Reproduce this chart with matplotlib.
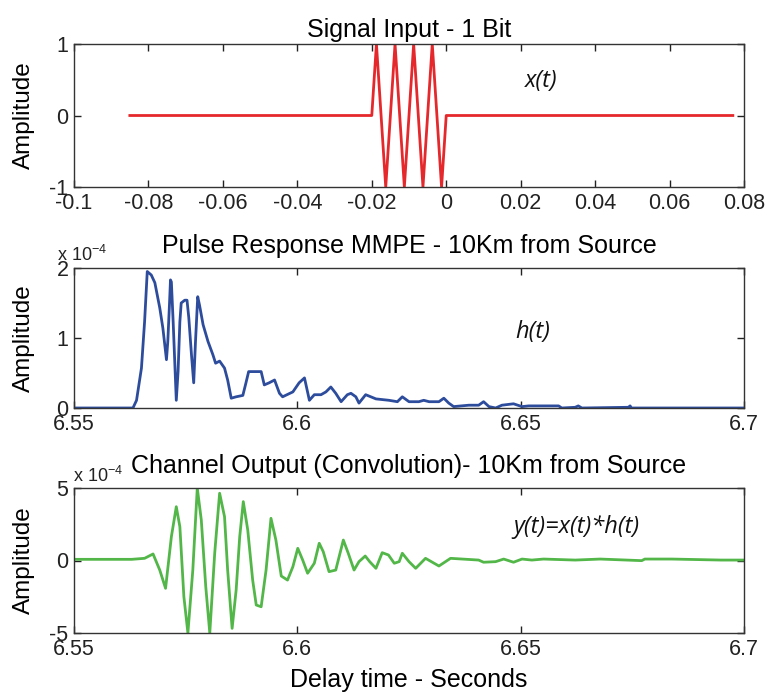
import matplotlib
matplotlib.use("Agg")
from matplotlib import pyplot as plt

plt.rcParams['font.family'] = ['Liberation Sans', 'DejaVu Sans']
plt.rcParams['axes.unicode_minus'] = False
plt.rcParams['mathtext.fontset'] = 'custom'
plt.rcParams['mathtext.rm'] = 'Liberation Sans'
plt.rcParams['mathtext.it'] = 'Liberation Sans:italic'

# --- data -------------------------------------------------------------
# input bit: 4 cycles of a sine, 5 ms period, ending at t = 0
x_t = [-0.085, -0.02, -0.01875, -0.01625, -0.01375, -0.01125, -0.00875,
       -0.00625, -0.00375, -0.00125, 0.0, 0.077]
x_amp = [0, 0, 1, -1, 1, -1, 1, -1, 1, -1, 0, 0]

# pulse response (units of 1e-4)
h_t = [6.55, 6.5632, 6.5640, 6.5651, 6.5658, 6.5664, 6.5673, 6.5681, 6.5692,
       6.5699, 6.5707, 6.5710, 6.5714, 6.5716, 6.5718, 6.5722, 6.5729, 6.5733,
       6.5737, 6.5740, 6.5748, 6.5753, 6.5757, 6.5763, 6.5768, 6.5772, 6.5777,
       6.5781, 6.5789, 6.5800, 6.5811, 6.5817, 6.5826, 6.5837, 6.5844, 6.5852,
       6.5863, 6.5878, 6.5885, 6.5891, 6.5919, 6.5926, 6.5937, 6.5949, 6.5960,
       6.5967, 6.5990, 6.6004, 6.6016, 6.6027, 6.6038, 6.6053, 6.6064, 6.6075,
       6.6086, 6.6098, 6.6112, 6.6120, 6.6131, 6.6138, 6.6153, 6.6176, 6.6205,
       6.6224, 6.6235, 6.6250, 6.6272, 6.6283, 6.6295, 6.6317, 6.6328, 6.6339,
       6.6350, 6.6384, 6.6406, 6.6417, 6.6429, 6.6444, 6.6458, 6.6484, 6.6503,
       6.6518, 6.6585, 6.6592, 6.6622, 6.6629, 6.6637, 6.6741, 6.6745, 6.6748,
       6.70]
h_amp = [0, 0, 0.11, 0.57, 1.23, 1.95, 1.90, 1.79, 1.43,
         1.14, 0.69, 0.95, 1.52, 1.83, 1.80, 1.23, 0.11, 0.52,
         1.23, 1.50, 1.54, 1.54, 1.29, 0.76, 0.36, 0.95, 1.59,
         1.47, 1.19, 0.95, 0.76, 0.64, 0.67, 0.57, 0.40, 0.14,
         0.16, 0.18, 0.36, 0.52, 0.52, 0.33, 0.36, 0.40, 0.21,
         0.16, 0.23, 0.36, 0.43, 0.11, 0.19, 0.19, 0.23, 0.30,
         0.21, 0.09, 0.19, 0.21, 0.16, 0.07, 0.19, 0.13, 0.11,
         0.09, 0.16, 0.09, 0.09, 0.11, 0.09, 0.09, 0.14, 0.07,
         0.02, 0.04, 0.04, 0.09, 0.02, 0.0, 0.04, 0.06, 0.02,
         0.03, 0.03, 0.0, 0.01, 0.03, 0.0, 0.01, 0.03, 0.0,
         0.0]

# channel output (units of 1e-4)
y_t = [6.55, 6.5629, 6.5658, 6.5677, 6.5692, 6.5705, 6.5718, 6.5729, 6.5737,
       6.5746, 6.5755, 6.5766, 6.5776, 6.5785, 6.5795, 6.5804, 6.5815, 6.5826,
       6.5837, 6.5844, 6.5854, 6.5863, 6.5871, 6.5879, 6.5889, 6.5900, 6.5908,
       6.5919, 6.5930, 6.5941, 6.5952, 6.5964, 6.5978, 6.5990, 6.6001, 6.6012,
       6.6023, 6.6038, 6.6049, 6.6058, 6.6071, 6.6086, 6.6103, 6.6114, 6.6127,
       6.6138, 6.6152, 6.6162, 6.6176, 6.6190, 6.6204, 6.6217, 6.6228, 6.6235,
       6.6250, 6.6265, 6.6287, 6.6317, 6.6343, 6.6406, 6.6417, 6.6444, 6.6462,
       6.6484, 6.6503, 6.6525, 6.6551, 6.6622, 6.6678, 6.6771, 6.6778, 6.6838,
       6.6949, 6.70]
y_amp = [0.08, 0.08, 0.15, 0.45, -0.66, -1.92, 1.64, 3.71, 2.33,
         -2.50, -5.0, -0.66, 5.0, 2.79, -1.81, -5.0, 0.50, 4.64,
         3.02, -0.66, -4.68, -2.04, 1.64, 4.06, 2.10, -1.35, -3.07,
         -3.19, -0.66, 2.91, 1.41, -1.07, -1.35, -0.43, 0.84, 0.03,
         -0.88, -0.19, 1.19, 0.61, -0.77, -0.66, 1.41, 0.50, -0.66,
         -0.08, 0.31, -0.08, -0.54, 0.54, 0.38, -0.19, -0.08, 0.50,
         -0.08, -0.54, 0.15, -0.38, 0.15, 0.03, -0.12, -0.08, 0.10,
         -0.12, 0.10, 0.03, 0.10, 0.03, 0.10, -0.01, 0.10, 0.10,
         0.03, 0.03]

top_xticks = [-0.1, -0.08, -0.06, -0.04, -0.02, 0, 0.02, 0.04, 0.06, 0.08]
top_xlabels = ['-0.1', '-0.08', '-0.06', '-0.04', '-0.02', '0', '0.02', '0.04', '0.06', '0.08']
t_ticks = [6.55, 6.6, 6.65, 6.7]
t_labels = ['6.55', '6.6', '6.65', '6.7']

red = '#e5282c'
blue = '#2d4c9c'
green = '#52b748'

fig = plt.figure(figsize=(7.67, 6.94), dpi=100)
left, width = 74 / 767, 670 / 767
ax1 = fig.add_axes([left, 1 - 187 / 694, width, 143 / 694])
ax2 = fig.add_axes([left, 1 - 408 / 694, width, 140 / 694])
ax3 = fig.add_axes([left, 1 - 633 / 694, width, 145 / 694])

ax1.plot(x_t, x_amp, color=red, lw=2)
ax2.plot(h_t, h_amp, color=blue, lw=2)
ax3.plot(y_t, y_amp, color=green, lw=2)

ax1.set_xlim(-0.1, 0.08)
ax1.set_ylim(-1, 1)
ax1.set_xticks(top_xticks)
ax1.set_xticklabels(top_xlabels)
ax1.set_yticks([-1, 0, 1])
ax1.set_yticklabels(['-1', '0', '1'])
ax1.set_title('Signal Input - 1 Bit', fontsize=18, pad=5)

ax2.set_xlim(6.55, 6.7)
ax2.set_ylim(0, 2)
ax2.set_yticks([0, 1, 2])
ax2.set_yticklabels(['0', '1', '2'])
ax2.set_title('Pulse Response MMPE - 10Km from Source', fontsize=18, pad=11)

ax3.set_xlim(6.55, 6.7)
ax3.set_ylim(-5, 5)
ax3.set_yticks([-5, 0, 5])
ax3.set_yticklabels(['-5', '0', '5'])
ax3.set_title('Channel Output (Convolution)- 10Km from Source', fontsize=18, pad=11)
ax3.set_xlabel('Delay time - Seconds', fontsize=18, labelpad=6)

for ax in (ax2, ax3):
    ax.set_xticks(t_ticks)
    ax.set_xticklabels(t_labels)

for ax in (ax1, ax2, ax3):
    ax.set_ylabel('Amplitude', fontsize=17.5)
    ax.yaxis.set_label_coords(-0.058, 0.5)
    ax.tick_params(direction='in', top=True, right=True, length=5, width=1,
                   labelsize=15.5, pad=4, colors='#222222')
    for s in ax.spines.values():
        s.set_color('#333333')
        s.set_linewidth(1)

fig.text(57 / 767, 1 - 261 / 694, 'x 10$^{-4}$', fontsize=13, color='#222222')
fig.text(73 / 767, 1 - 482 / 694, 'x 10$^{-4}$', fontsize=13, color='#222222')

anno = dict(fontsize=17, style='italic', family=['Open Sans', 'DejaVu Sans'],
            ha='left', va='center', color='#111111')
ax1.text(0.021, 0.48, 'x(t)', **anno)
ax2.text(6.6489, 1.09, 'h(t)', **anno)
ax3.text(6.6484, 2.3, 'y(t)=x(t)*h(t)', **anno)

fig.savefig('out.png', dpi=100)
